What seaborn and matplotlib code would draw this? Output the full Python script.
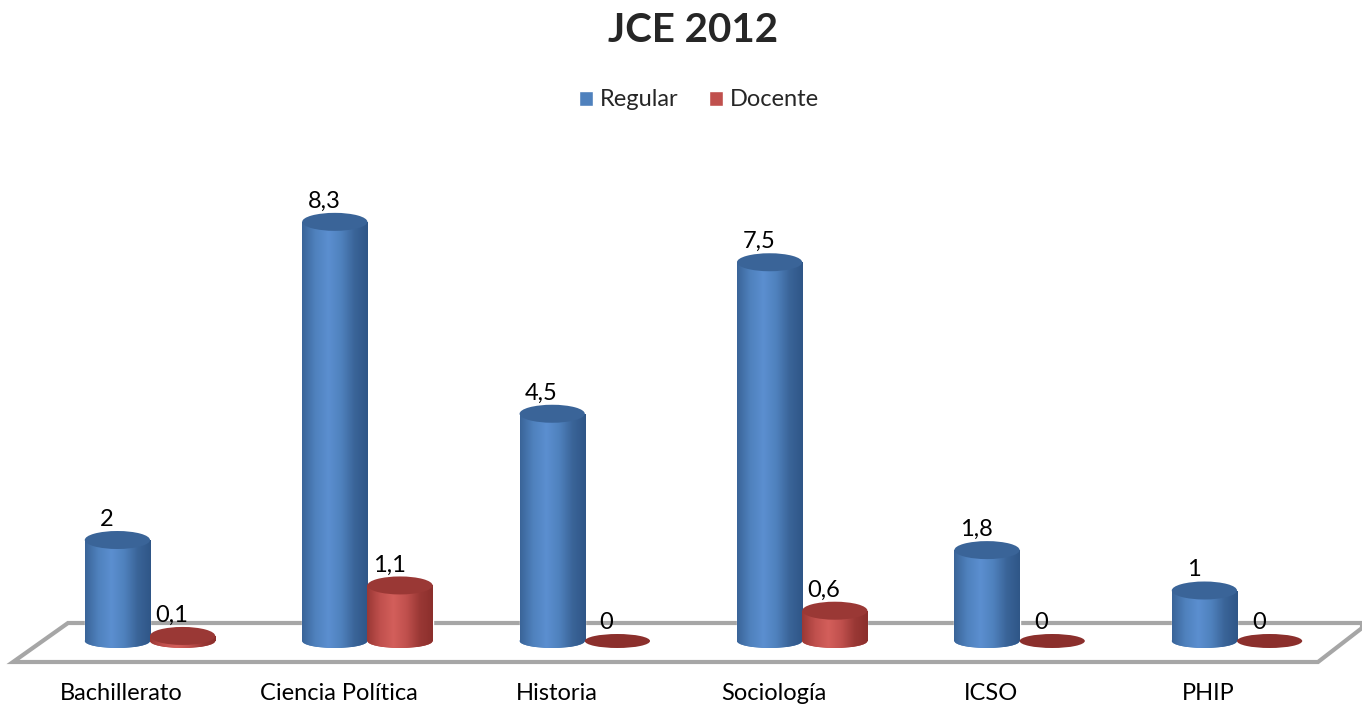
import numpy as np
import pandas as pd
import matplotlib
matplotlib.use("Agg")
import matplotlib.pyplot as plt
import seaborn as sns
from matplotlib.patches import Ellipse, Polygon, Rectangle
from matplotlib.colors import LinearSegmentedColormap

categories = ["Bachillerato", "Ciencia Política", "Historia", "Sociología", "ICSO", "PHIP"]
regular = [2, 8.3, 4.5, 7.5, 1.8, 1]
docente = [0.1, 1.1, 0, 0.6, 0, 0]
series = ["Regular", "Docente"]
title = "JCE 2012"

colors = {"Regular": "#4F81BD", "Docente": "#C0504D"}
dark = {"Regular": "#3A6498", "Docente": "#9A3835"}
light = {"Regular": "#5B8FD0", "Docente": "#D35F5B"}
deep = {"Regular": "#2F5687", "Docente": "#8B2F2C"}

df = pd.DataFrame({
    "cat": categories * 2,
    "serie": ["Regular"] * len(categories) + ["Docente"] * len(categories),
    "val": regular + docente,
})

sns.set_theme(style="white")
plt.rcParams["font.family"] = ["Lato", "DejaVu Sans"]

W, H = 1362, 712
fig = plt.figure(figsize=(W / 100, H / 100), dpi=100)
ax = fig.add_axes([0, 0, 1, 1])
ax.set_facecolor("none")

# floor (decoration, in figure pixels)
floor = Polygon([(13 / W, 1 - 662 / H), (68 / W, 1 - 623 / H), (1362 / W, 1 - 623 / H),
                 (1362 / W, 1 - 628 / H), (1318 / W, 1 - 662 / H)],
                closed=True, transform=fig.transFigure, facecolor="white",
                edgecolor="#A6A6A6", linewidth=3, zorder=1, clip_on=False)
ax.add_patch(floor)

sns.barplot(data=df, x="cat", y="val", hue="serie", order=categories, hue_order=series,
            palette=colors, width=0.6, ax=ax, legend=False, saturation=1, zorder=3)

ppu = 50.5  # pixels per unit
base = H - 641
ax.set_xlim(-150 / 217.4, (W - 150) / 217.4)
ax.set_ylim(-base / ppu, (H - base) / ppu)

cap_h = 18 / ppu
bot_h = 14 / ppu

n = len(categories)
bars = [p for p in ax.patches if isinstance(p, Rectangle)][:2 * n]
for i, patch in enumerate(bars):
    s = series[i // n]
    vals = regular if s == "Regular" else docente
    v = vals[i % n]
    x0 = patch.get_x()
    w = patch.get_width()
    xc = x0 + w / 2
    y0 = 0
    patch.set_visible(v > 0)
    if v > 0:
        cmap = LinearSegmentedColormap.from_list(
            "g", [dark[s], colors[s], light[s], colors[s], dark[s], deep[s]])
        grad = np.linspace(0, 1, 256).reshape(1, -1)
        im = ax.imshow(grad, cmap=cmap, extent=[x0, x0 + w, y0, y0 + v],
                       aspect="auto", zorder=3.5, interpolation="bilinear")
        im.set_clip_path(patch)
        bot = Ellipse((xc, y0), w, bot_h, facecolor=colors[s], edgecolor="none", zorder=3.2)
        ax.add_patch(bot)
        ax.imshow(grad, cmap=cmap, extent=[x0, x0 + w, y0 - bot_h / 2, y0],
                  aspect="auto", zorder=3.4, interpolation="bilinear").set_clip_path(bot)
        top = Ellipse((xc, y0 + v), w, cap_h, facecolor=dark[s], edgecolor="none", zorder=4)
        ax.add_patch(top)
        lbl_y = y0 + v + cap_h / 2
    else:
        flat = Ellipse((xc, y0), w, bot_h, facecolor=deep[s], edgecolor="none", zorder=4)
        ax.add_patch(flat)
        lbl_y = y0 + bot_h / 2
    txt = ("%g" % v).replace(".", ",")
    ax.text(xc - 0.05, lbl_y + 0.02, txt, ha="center", va="bottom", fontsize=17,
            color="black", zorder=5)

ax.set_xticks(np.arange(n) - 0.13)
ax.set_xticklabels(categories, fontsize=17, color="black")
ax.tick_params(axis="x", length=0, pad=-21)
ax.set_xlabel("")
ax.set_ylabel("")
ax.set_yticks([])
for sp in ax.spines.values():
    sp.set_visible(False)

fig.text(693 / W, 1 - 30 / H, title, ha="center", va="center", fontsize=29, fontweight="bold")
handles = [Rectangle((0, 0), 1, 1, facecolor=colors[s]) for s in series]
fig.legend(handles, series, loc="center", bbox_to_anchor=(699 / W, 1 - 100 / H), ncol=2,
           frameon=False, fontsize=17, handlelength=0.6, handleheight=0.6,
           handletextpad=0.3, columnspacing=1.3)

fig.savefig("out.png", dpi=100)
